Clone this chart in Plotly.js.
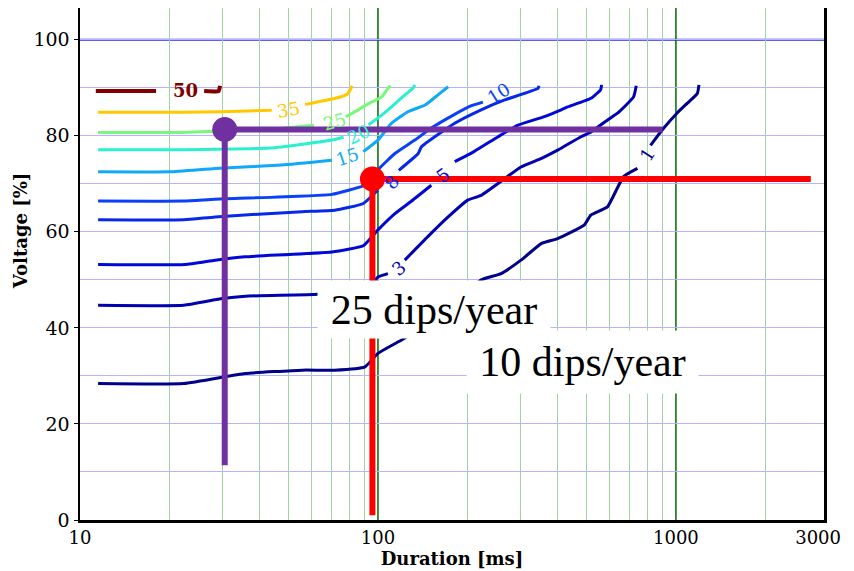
<!DOCTYPE html>
<html><head><meta charset="utf-8">
<script src="https://cdn.plot.ly/plotly-3.0.1.min.js"></script>
<style>html,body{margin:0;padding:0;background:#fff}#chart{width:854px;height:571px}</style>
</head><body><div id="chart"></div>
<script>
// ---- contour levels (dips per year) and their colours ----
const levels = [50, 35, 25, 20, 15, 10, 8, 5, 3, 1];
const levelColors = ['#800000', '#ffc800', '#78f878', '#2af0d0', '#10a8f8', '#0a40f8', '#0828e8', '#0008d8', '#0000b0', '#000088'];

// ---- contour lines: duration [ms] / voltage [%] (null = gap for inline label) ----
const dur50 = [11.3, 18.0, null, 26.1, 29.2, 29.5];
const volt50 = [89.3, 89.3, null, 89.3, 89.3, 90.4];
const dur35 = [11.5, 22, 30, 44, null, 57, 72, 79, 82];
const volt35 = [84.9, 84.9, 85.0, 85.3, null, 86.5, 87.8, 88.7, 90.4];
const dur25 = [11.5, 22, 30, 44, 61, null, 78, 82, 93, 103, 107, 110];
const volt25 = [80.7, 80.7, 81.0, 81.4, 82.2, null, 84.0, 84.7, 86.7, 88.1, 89.5, 90.5];
const dur20 = [11.5, 22, 45, 70, 76.7, null, 93, 103, 111, 121, 131, 133];
const volt20 = [77.1, 77.1, 77.5, 79.1, 79.7, null, 82.3, 84.3, 86.0, 88.1, 89.9, 90.6];
const dur15 = [11.5, 20, 28.4, 47.5, 70, null, 89.3, 100, 111, 126, 144, 159, 172];
const volt15 = [72.5, 72.5, 73.2, 73.9, 74.9, null, 76.7, 79.1, 82.6, 85.0, 86.4, 88.5, 90.2];
const dur10 = [11.5, 22.3, 28.4, 70, 89.3, 95, 101, 114, 133, 151, 179, 205, 225];
const volt10 = [66.4, 66.4, 66.8, 67.8, 69.6, 71, 73.2, 76.3, 79.1, 81.6, 84.3, 86.2, 87.0];
const dur8 = [11.5, 22.3, 28.4, 55.6, 71.6, 89.3, 100, null, 117.5, 136.5, 140, 181, 222, 265, 345, 347];
const volt8 = [62.5, 62.5, 63.1, 64.2, 64.5, 65.9, 68.7, null, 72.8, 76.3, 77.7, 82.6, 85.4, 87.4, 89.9, 90.4];
const dur5 = [11.5, 22.5, 28.4, 35.8, 70, 89.3, 100, 114, 129, 151, null, 181, 210, 253, 295, 362, 412, 433, 519, 559, 563];
const volt5 = [53.2, 53.2, 54.1, 54.8, 55.8, 57.1, 60.4, 63.8, 66.3, 69.7, null, 74.6, 76.7, 79.8, 82.2, 84.0, 85.4, 86.0, 87.8, 89.6, 90.6];
const dur3 = [11.5, 22.3, 30, 35.9, 63, 85, 95, 100, 108, null, 123, 147, 172, 200, 222, 272, 302, 354, 401, 480, 519, 590, 637, 721, 736];
const volt3 = [44.7, 44.7, 46.1, 46.6, 47.0, 47.8, 49.0, 50.6, 51.3, null, 54.1, 59.0, 63.1, 66.6, 67.6, 71.5, 73.5, 75.3, 77.0, 79.8, 80.8, 83.3, 84.7, 88.1, 90.4];
const dur1 = [11.5, 22.3, 35.8, 55.6, 71.6, 90.5, 100, 117, 150, 190, 222, 259, 302, 354, 401, 492, 518, 589, 667, 743, null, 822, 899, 1008, 1093, 1180, 1195];
const volt1 = [28.4, 28.4, 30.5, 31.2, 31.2, 31.9, 34.7, 37.1, 41, 46, 50, 51.3, 54.1, 57.6, 58.6, 61.4, 63.5, 65.2, 71.5, 73.2, null, 78, 81.2, 84.7, 86.8, 88.8, 90.6];

const contourDur = [dur50, dur35, dur25, dur20, dur15, dur10, dur8, dur5, dur3, dur1];
const contourVolt = [volt50, volt35, volt25, volt20, volt15, volt10, volt8, volt5, volt3, volt1];

// ---- inline contour labels: position (duration ms, voltage %) ----
const labelDur = [22.6, 50.2, 71.6, 85.9, 79.3, 253, 111, 164.4, 117, 802];
const labelVolt = [89.4, 85.4, 83.05, 80.35, 75.6, 88.9, 70.3, 71.8, 52.4, 76.0];
const labelAngle = [0, -10, -15, -25, -18, -32, -50, -35, -40, -58];

// ---- highlighted reading points ----
const purpleDur = [902, 30.6, 30.6];
const purpleVolt = [81.3, 81.3, 11.4];
const redDur = [2836, 95.8, 95.8];
const redVolt = [71.0, 71.0, 1.0];

// ---- annotation texts ----
const boxTexts = ['10 dips/year', '25 dips/year'];

// ---- axis ticks ----
const xTicks = [10, 100, 1000, 3000];
const xTickText = ['10', '100', '1000', '3000'];
const xMinor = [20, 30, 40, 50, 60, 70, 80, 90, 200, 300, 400, 500, 600, 700, 800, 900, 2000];
const xDecadeGrid = [100, 1000];
const yTicks = [0, 20, 40, 60, 80, 100];
const yTopGrid = 100;

const traces = [];
levels.forEach((lv, i) => {
  traces.push({
    type: 'scatter', mode: 'lines', x: contourDur[i], y: contourVolt[i],
    connectgaps: false, hoverinfo: 'skip',
    line: {color: levelColors[i], width: i === 0 ? 4 : 3, shape: 'spline', smoothing: 0.4}
  });
});
traces.push({type: 'scatter', mode: 'lines', x: purpleDur, y: purpleVolt,
  line: {color: '#7030a0', width: 6}, hoverinfo: 'skip'});
traces.push({type: 'scatter', mode: 'markers', x: [purpleDur[1]], y: [purpleVolt[1]],
  marker: {color: '#7030a0', size: 25}, hoverinfo: 'skip'});
traces.push({type: 'scatter', mode: 'lines', x: redDur, y: redVolt,
  line: {color: '#ff0000', width: 6}, hoverinfo: 'skip'});
traces.push({type: 'scatter', mode: 'markers', x: [redDur[1]], y: [redVolt[1]],
  marker: {color: '#ff0000', size: 25}, hoverinfo: 'skip'});

const annotations = [];
levels.forEach((lv, i) => {
  annotations.push({
    x: Math.log10(labelDur[i]), y: labelVolt[i], xref: 'x', yref: 'y',
    text: String(lv), showarrow: false, textangle: labelAngle[i],
    font: {family: 'DejaVu Serif', size: 18, color: levelColors[i], weight: i === 0 ? 'bold' : 'normal'}
  });
});
// white text boxes (10 first so 25 box sits on top)
annotations.push({xref: 'paper', yref: 'paper', x: 0.6754, y: 0.3086, xanchor: 'center', yanchor: 'middle',
  text: boxTexts[0], showarrow: false, bgcolor: '#ffffff', width: 229, height: 60, borderpad: 1,
  font: {family: 'Liberation Serif', size: 42, color: '#000'}});
annotations.push({xref: 'paper', yref: 'paper', x: 0.4758, y: 0.411, xanchor: 'center', yanchor: 'middle',
  text: boxTexts[1], showarrow: false, bgcolor: '#ffffff', width: 230, height: 55, borderpad: 1,
  font: {family: 'Liberation Serif', size: 42, color: '#000'}});
// y-axis title
annotations.push({xref: 'paper', yref: 'paper', x: -0.08, y: 0.565, xanchor: 'center', yanchor: 'middle',
  text: 'Voltage [%]', textangle: -90, showarrow: false,
  font: {family: 'DejaVu Serif', size: 18, weight: 'bold', color: '#000'}});

// darker grid lines (shape coordinates on a log axis are data values)
const shapes = [
  {type: 'line', xref: 'paper', x0: 0, x1: 1, yref: 'y', y0: yTopGrid, y1: yTopGrid, layer: 'between',
   line: {color: '#2a2ae8', width: 2}}
];
xDecadeGrid.forEach(v => shapes.push({type: 'line', yref: 'paper', y0: 0, y1: 1, xref: 'x', x0: v, x1: v,
  layer: 'between', line: {color: '#006a00', width: 1.5}}));

const layout = {
  width: 854, height: 571,
  margin: {l: 80, r: 30, t: 8, b: 51},
  paper_bgcolor: '#ffffff', plot_bgcolor: '#ffffff',
  showlegend: false,
  font: {family: 'DejaVu Serif', size: 17, color: '#000'},
  xaxis: {
    type: 'log', range: [1, 3.497], tickmode: 'array', tickvals: xTicks, ticktext: xTickText,
    showgrid: false, zeroline: false, showline: true, linecolor: '#000', linewidth: 2.5,
    ticks: '', tickfont: {family: 'DejaVu Serif', size: 18},
    minor: {tickmode: 'array', tickvals: xMinor, showgrid: true, gridcolor: '#a2d4a2', gridwidth: 1, ticks: ''},
    title: {text: 'Duration [ms]', font: {family: 'DejaVu Serif', size: 18, weight: 'bold'}, standoff: 5}
  },
  yaxis: {
    range: [0, 106.6], tickmode: 'array', tickvals: yTicks,
    showgrid: true, gridcolor: '#b4b4ff', gridwidth: 1,
    minor: {dtick: 10, showgrid: true, gridcolor: '#b4b4ff', gridwidth: 1, ticks: ''},
    zeroline: false, showline: true, mirror: true, linecolor: '#000', linewidth: 2.5,
    ticks: 'outside', ticklen: 4, tickcolor: '#000', tickfont: {family: 'DejaVu Serif', size: 19}
  },
  shapes: shapes,
  annotations: annotations
};

Plotly.newPlot('chart', traces, layout, {displayModeBar: false, staticPlot: true});
</script>
</body></html>
